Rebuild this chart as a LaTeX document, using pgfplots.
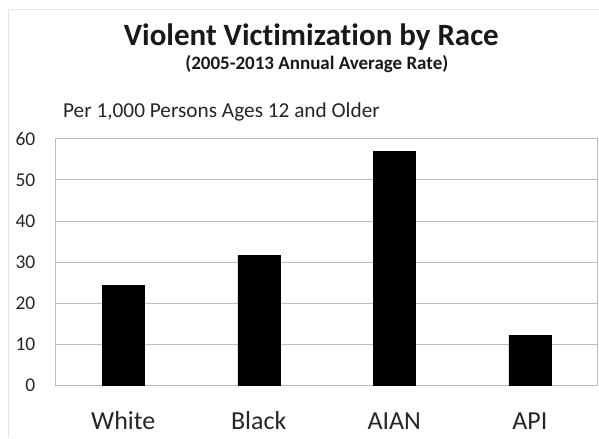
\documentclass[border=0pt]{standalone}
\usepackage{pgfplots}
\pgfplotsset{compat=1.18}
\usepackage{fontspec}
\setmainfont[Ligatures=NoCommon]{Carlito}
\definecolor{gridgray}{RGB}{190,190,190}
\definecolor{framegray}{RGB}{228,228,228}
\begin{document}
\begin{tikzpicture}[x=1pt,y=1pt]
% canvas and outer frame
\fill[white] (0,0) rectangle (599,438);
\draw[framegray, line width=0.8pt] (8.5,0) -- (8.5,429) -- (599,429);
% titles
\node[font=\bfseries\fontsize{31}{34}\selectfont, anchor=base, inner sep=0pt, text=black!90] at (311.5,392) {Violent Victimization by Race};
\node[font=\bfseries\fontsize{19}{21}\selectfont, anchor=base, inner sep=0pt, text=black!90] at (317,368) {(2005-2013 Annual Average Rate)};
\node[font=\fontsize{21.3}{23}\selectfont, anchor=base west, inner sep=0pt, text=black!85] at (63,320.3) {Per 1,000 Persons Ages 12 and Older};
\begin{axis}[
  at={(55.5pt,52.3pt)}, anchor=south west,
  scale only axis, width=542.5pt, height=246.7pt,
  xmin=-0.5, xmax=3.5, ymin=0, ymax=60,
  ytick={0,10,...,60},
  xtick={0,1,2,3},
  xticklabels={White,Black,AIAN,API},
  ymajorgrids,
  grid style={gridgray, line width=1pt},
  axis line style={gridgray, line width=1pt},
  major tick length=0pt,
  tick style={draw=none},
  /pgf/number format/assume math mode=true,
  yticklabel style={font=\fontsize{19.5}{20}\selectfont, anchor=east, inner sep=0pt, xshift=-20pt, text=black!85},
  xticklabel style={font=\fontsize{26}{28}\selectfont, anchor=base, inner sep=0pt, yshift=-44.3pt, text=black!85},
  ybar, bar width=42pt,
]
\addplot[fill=black, draw=black] coordinates {(0,24.3) (1,31.6) (2,56.9) (3,12.2)};
\end{axis}
\end{tikzpicture}
\end{document}
